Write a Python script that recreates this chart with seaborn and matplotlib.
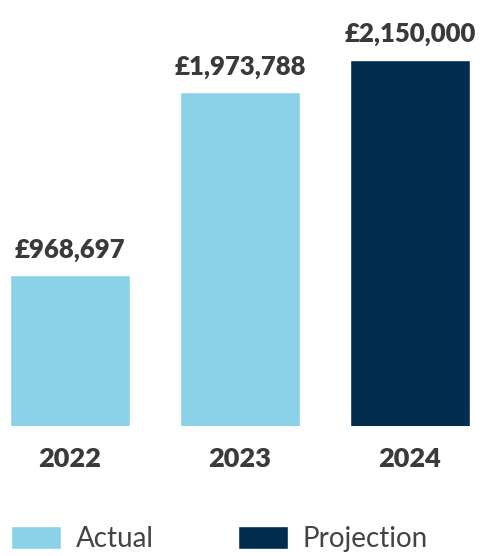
"""Revenue bar chart: actual vs projection"""

import matplotlib
matplotlib.use('Agg')
import matplotlib.pyplot as plt
import seaborn as sns
import pandas as pd

# Chart data
years = ['2022', '2023', '2024']
values = [968697, 1973788, 2150000]
kinds = ['Actual', 'Actual', 'Projection']
value_labels = ['£968,697', '£1,973,788', '£2,150,000']

palette = {'Actual': '#8bd1e7', 'Projection': '#022d4e'}
text_color = '#3a3a3a'

sns.set_theme(style='white')
plt.rcParams['font.family'] = ['Lato', 'DejaVu Sans']

df = pd.DataFrame({'year': years, 'value': values, 'kind': kinds})

fig = plt.figure(figsize=(4.83, 5.56), dpi=100)
ax = fig.add_axes([10 / 483, 130 / 556, 460 / 483, 426 / 556])

sns.barplot(
    data=df,
    x='year',
    y='value',
    hue='kind',
    palette=palette,
    dodge=False,
    width=0.706,
    saturation=1,
    ax=ax
)

handles, labels = ax.get_legend_handles_labels()
if ax.get_legend() is not None:
    ax.get_legend().remove()

# value labels above each bar
for container in ax.containers:
    ax.bar_label(
        container,
        labels=[value_labels[int(round(b.get_x() + b.get_width() / 2))] for b in container],
        padding=10,
        fontsize=18.5,
        fontweight='heavy',
        color=text_color
    )

ax.set_xlim(-0.353, 2.353)
ax.set_ylim(142500, 2481000)
ax.set_xlabel('')
ax.set_ylabel('')
ax.set_yticks([])
ax.tick_params(axis='x', length=0, pad=15, labelsize=19.5, labelcolor=text_color)
for lbl in ax.get_xticklabels():
    lbl.set_fontweight('heavy')
sns.despine(ax=ax, left=True, bottom=True)

fig.legend(
    handles, labels,
    loc='lower left',
    bbox_to_anchor=(11 / 483, 4 / 556),
    ncol=2,
    frameon=False,
    fontsize=20,
    handlelength=1.8,
    handleheight=0.9,
    handletextpad=0.55,
    columnspacing=3.0,
    borderpad=0,
    borderaxespad=0,
    labelcolor='#444444'
)

fig.savefig('out.png', dpi=100)
